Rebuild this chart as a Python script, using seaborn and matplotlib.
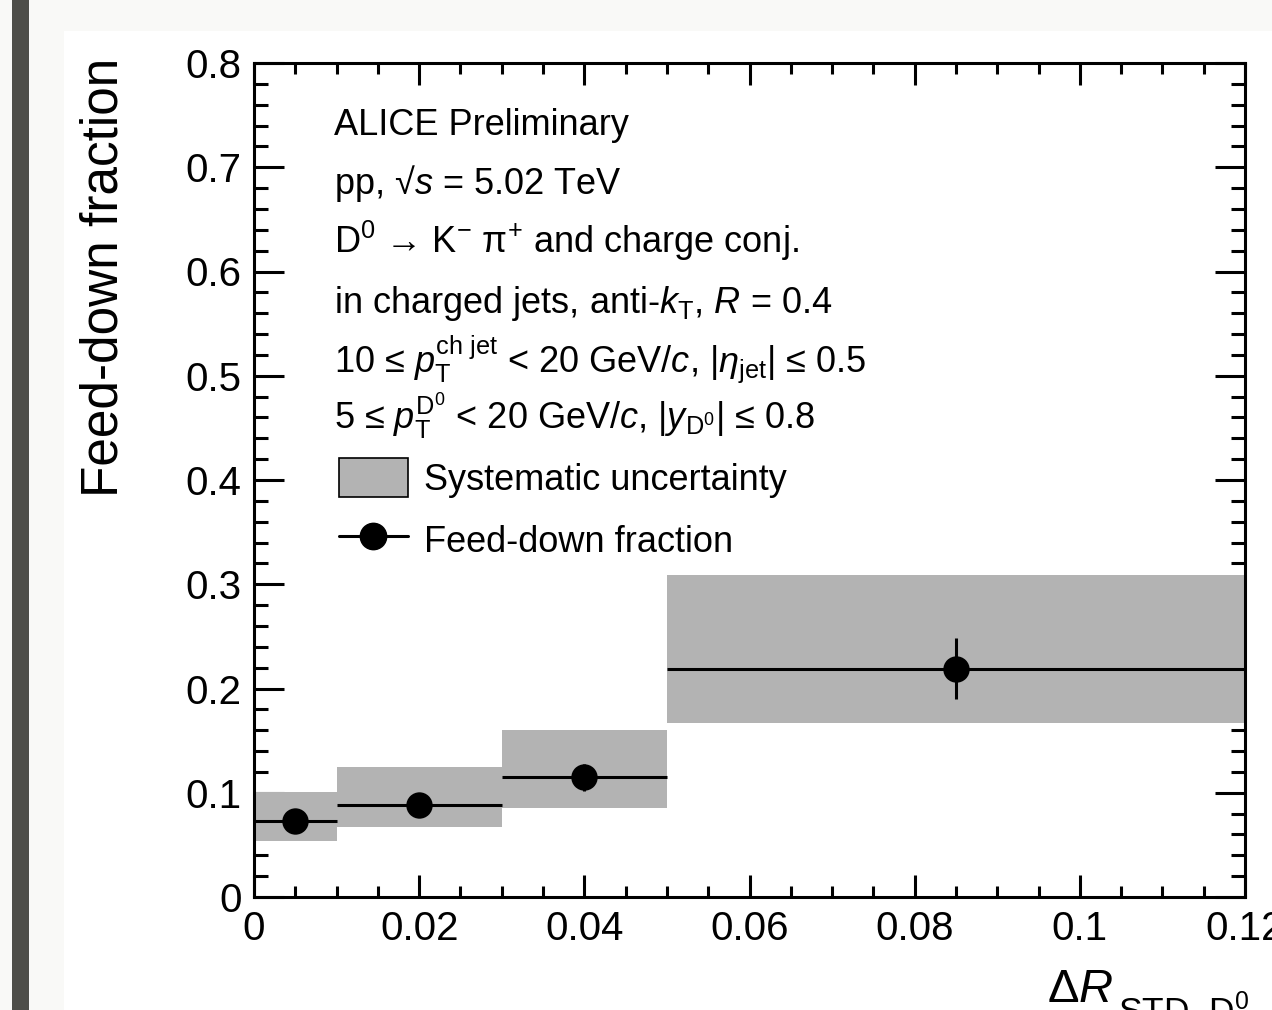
import matplotlib
matplotlib.use("Agg")
import matplotlib.pyplot as plt
import seaborn as sns
import numpy as np
import pandas as pd
from matplotlib.patches import Rectangle, Patch
from matplotlib.lines import Line2D

# ---------------- data ----------------
bin_low = [0.0, 0.01, 0.03, 0.05]
bin_high = [0.01, 0.03, 0.05, 0.12]
bin_center = [0.005, 0.02, 0.04, 0.085]
fd_fraction = [0.073, 0.088, 0.115, 0.219]
stat_err = [0.004, 0.004, 0.013, 0.029]
sys_low = [0.054, 0.067, 0.085, 0.167]
sys_high = [0.101, 0.125, 0.160, 0.309]

x_ticks = [0, 0.02, 0.04, 0.06, 0.08, 0.1, 0.12]
x_tick_labels = ["0", "0.02", "0.04", "0.06", "0.08", "0.1", "0.12"]
y_ticks = [0, 0.1, 0.2, 0.3, 0.4, 0.5, 0.6, 0.7, 0.8]
y_tick_labels = ["0", "0.1", "0.2", "0.3", "0.4", "0.5", "0.6", "0.7", "0.8"]

info_lines = [
    "ALICE Preliminary",
    r"pp, √$s$ = 5.02 TeV",
    r"D$^{0}$ → K$^{-}$ π$^{+}$ and charge conj.",
    r"in charged jets, anti-$k_{\mathrm{T}}$, $R$ = 0.4",
    r"10 ≤ $p_{\mathrm{T}}^{\mathrm{ch\ jet}}$ < 20 GeV/$c$, |$\eta_{\mathrm{jet}}$| ≤ 0.5",
    r"5 ≤ $p_{\mathrm{T}}^{\mathrm{D^{0}}}$ < 20 GeV/$c$, |$y_{\mathrm{D^{0}}}$| ≤ 0.8",
]
legend_labels = ["Systematic uncertainty", "Feed-down fraction"]
y_title = "Feed-down fraction"
x_title_main = r"Δ$R$"
x_title_sub = r"STD–D$^{0}$"

df = pd.DataFrame({"x": bin_center, "y": fd_fraction})

# ---------------- style ----------------
sns.set_theme(style="ticks")
plt.rcParams["font.family"] = ["Liberation Sans", "DejaVu Sans"]
plt.rcParams["text.color"] = "black"
plt.rcParams["legend.labelcolor"] = "black"
plt.rcParams["mathtext.fontset"] = "custom"
plt.rcParams["mathtext.rm"] = "Liberation Sans"
plt.rcParams["mathtext.it"] = "Liberation Sans:italic"
plt.rcParams["mathtext.bf"] = "Liberation Sans:bold"

W, H = 1272, 1010
fig = plt.figure(figsize=(W / 100, H / 100), dpi=100)
fig.patch.set_facecolor("#f9f9f7")
# inner white panel and dark side bar
fig.add_artist(Rectangle((64 / W, 0), 1 - 64 / W, 1 - 31 / H, transform=fig.transFigure,
                         facecolor="white", edgecolor="none", zorder=0))
fig.add_artist(Rectangle((12 / W, 0), 17 / W, 1, transform=fig.transFigure,
                         facecolor="#4e4e49", edgecolor="none", zorder=0))

ax = fig.add_axes([254 / W, 1 - 897 / H, (1245 - 254) / W, (897 - 63) / H])
ax.set_facecolor("white")

GRAY = "#b3b3b3"
LW = 2.2

# systematic boxes
widths = [h - l for l, h in zip(bin_low, bin_high)]
heights = [h - l for l, h in zip(sys_low, sys_high)]
ax.bar(bin_low, heights, width=widths, bottom=sys_low, align="edge",
       color=GRAY, linewidth=0, zorder=1)

# bin width lines + stat errors
xerr_lo = [c - l for c, l in zip(bin_center, bin_low)]
xerr_hi = [h - c for c, h in zip(bin_center, bin_high)]
ax.errorbar(bin_center, fd_fraction, xerr=[xerr_lo, xerr_hi], yerr=stat_err,
            fmt="none", ecolor="black", elinewidth=LW, capsize=0, zorder=3)

# markers
sns.scatterplot(data=df, x="x", y="y", ax=ax, s=19 ** 2, color="black",
                edgecolor="black", linewidth=0, zorder=4, legend=False)

ax.set_xlim(0, 0.12)
ax.set_ylim(0, 0.8)
ax.set_xticks(x_ticks)
ax.set_xticklabels(x_tick_labels)
ax.set_yticks(y_ticks)
ax.set_yticklabels(y_tick_labels)
ax.set_xticks(np.arange(0, 0.1201, 0.005), minor=True)
ax.set_yticks(np.arange(0, 0.8001, 0.02), minor=True)
ax.set_xlabel("")
ax.set_ylabel("")

for s in ax.spines.values():
    s.set_visible(True)
    s.set_linewidth(LW)
    s.set_color("black")

ax.tick_params(which="both", direction="in", top=True, right=True, width=LW,
               colors="black", labelsize=29, pad=9)
ax.tick_params(axis="y", which="major", length=21.6)
ax.tick_params(axis="y", which="minor", length=10)
ax.tick_params(axis="x", which="major", length=16)
ax.tick_params(axis="x", which="minor", length=8)

# info text
baselines = [135, 194, 253, 313, 372, 430]
for txt, b in zip(info_lines, baselines):
    fig.text(334 / W, 1 - b / H, txt, fontsize=26, ha="left", va="baseline", color="black")

# legend
handles = [Patch(facecolor=GRAY, edgecolor="black", linewidth=1.2),
           Line2D([0], [0], color="black", lw=LW, marker="o", markersize=19)]
ax.legend(handles, legend_labels, loc="upper left",
          bbox_to_anchor=((339 - 254) / 991, (897 - 458) / 834),
          frameon=False, fontsize=26, borderpad=0, borderaxespad=0,
          handlelength=1.9, handleheight=1.3, handletextpad=0.44, labelspacing=0.62,
          labelcolor="black")

# axis titles
fig.text(118 / W, 1 - 497 / H, y_title, fontsize=37, rotation=90,
         rotation_mode="anchor", ha="left", va="baseline", color="black")
fig.text(1047 / W, 1 - 1002 / H, x_title_main, fontsize=34, ha="left", va="baseline",
         color="black")
fig.text(1118 / W, 1 - 1023 / H, x_title_sub, fontsize=25.5, ha="left", va="baseline",
         color="black")

fig.savefig("out.png", dpi=100, facecolor=fig.get_facecolor())
